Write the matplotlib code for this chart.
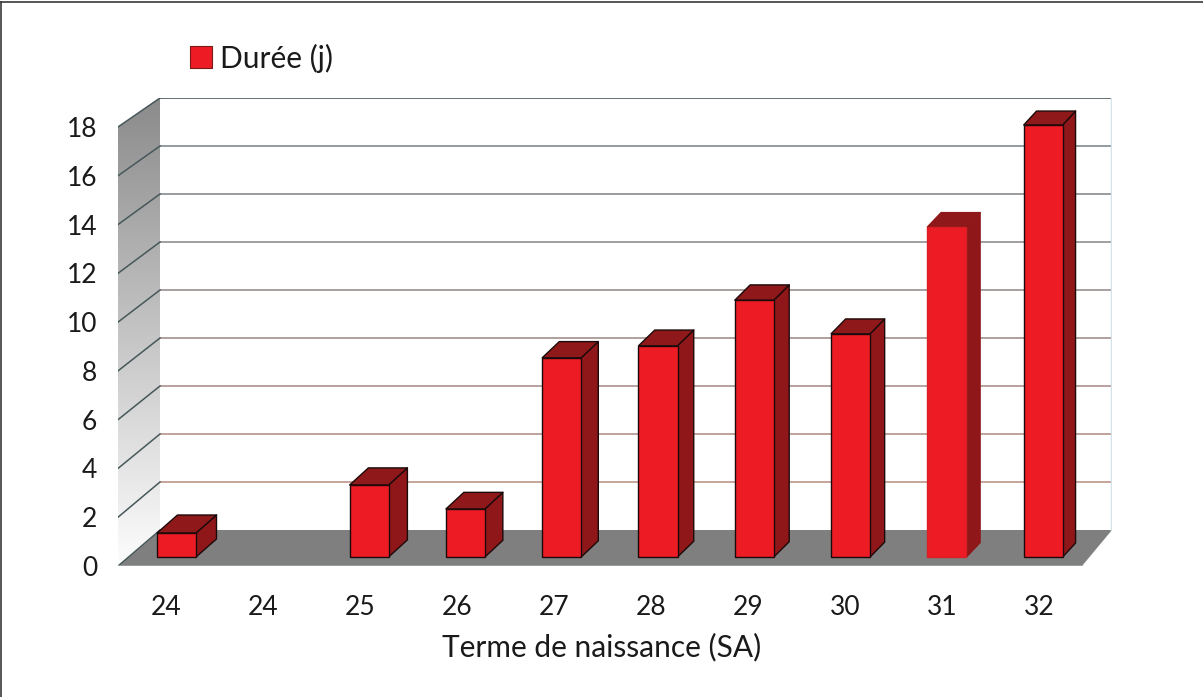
import numpy as np
import matplotlib
matplotlib.use("Agg")
import matplotlib.pyplot as plt
from matplotlib.lines import Line2D
from matplotlib.patches import Patch, Polygon

terms = ['24', '24', '25', '26', '27', '28', '29', '30', '31', '32']
durations = [1.0, 0, 3.0, 2.0, 8.3, 8.8, 10.7, 9.3, 13.75, 18.0]
y_ticks = [0, 2, 4, 6, 8, 10, 12, 14, 16, 18]

RED = '#ed1c24'
TOP = '#8f181b'
SIDE = '#8f1719'

W, H = 1203, 697
plt.rcParams['font.family'] = ['Lato', 'DejaVu Sans']

fig = plt.figure(figsize=(W / 100, H / 100), dpi=100)
# plot area in pixels: left wall front edge -> right of back wall
left, right, top, bottom = 118, 1112, 98, 566
ax = fig.add_axes([left / W, 1 - bottom / H, (right - left) / W, (bottom - top) / H])

# 1 x unit = one category, 1 y unit = one value on the front edge of the wall
x_unit = 96.3
y_unit = 24.39
x0 = 176.5  # centre of first bar
ax.set_xlim((left - x0) / x_unit, (right - x0) / x_unit)
ax.set_ylim(0, (bottom - top) / y_unit)


def px_x(v):
    return (v - x0) / x_unit


def px_y(v):
    return (bottom - v) / y_unit


# depth planes
back_x, back_zero = 160, 530
back_scale = 24.0 / y_unit


def back_y(v):
    return px_y(back_zero) + v * back_scale


# left wall with gradient, clipped to its shape
wall = Polygon([(px_x(left), 0), (px_x(back_x), back_y(0)),
                (px_x(back_x), back_y(18)), (px_x(left), 18)],
               closed=True, fc='none', ec='none')
ax.add_patch(wall)
grad = np.linspace(0, 1, 256).reshape(-1, 1)
im = ax.imshow(grad, extent=[px_x(left), px_x(back_x), 0, back_y(18)], origin='upper',
               cmap=matplotlib.colors.LinearSegmentedColormap.from_list('wall', ['#8b8b8b', '#c4c4c4', '#fdfdfd']),
               aspect='auto', zorder=1)
im.set_clip_path(wall)
ax.set_xlim((left - x0) / x_unit, (right - x0) / x_unit)
ax.set_ylim(0, (bottom - top) / y_unit)

# floor
floor = Polygon([(px_x(left), 0), (px_x(back_x), back_y(0)),
                 (px_x(right), back_y(0)), (px_x(1082), 0)],
                closed=True, fc='#7f7f7f', ec='none', zorder=2)
ax.add_patch(floor)

# grid on back wall and on left wall
n = len(y_ticks)
for i, v in enumerate(y_ticks):
    t = i / (n - 1)
    c = np.array([0.80, 0.62, 0.57]) * (1 - t) + np.array([0.50, 0.57, 0.60]) * t
    if v == 18:
        c = '#56666a'
    if v > 0:
        ax.plot([px_x(back_x), px_x(right)], [back_y(v), back_y(v)], color=c, lw=1.3, zorder=2, solid_capstyle='butt')
        ax.plot([px_x(left), px_x(back_x)], [v, back_y(v)], color='#46585a', lw=1.1, zorder=2)
    else:
        ax.plot([px_x(left), px_x(back_x)], [v, back_y(v)], color='#46585a', lw=1.0, zorder=3)
ax.plot([px_x(left), px_x(1082)], [0, 0], color='#9aa5a8', lw=1.2, zorder=3)
ax.plot([px_x(right - 1)] * 2, [back_y(0), back_y(18)], color='#d5e2ea', lw=1, zorder=2)

# bars: front from ax.bar, sides and tops from the value and the depth offset
bar_w = 0.405
base = px_y(557)
h_scale = 24.0 / y_unit
x = np.arange(len(terms))
for i, d in zip(x, durations):
    if d == 0:
        continue
    soft = i == 8  # this one has no black outline in the original
    ec = '#1c0a0a'
    lw = 1.0
    if soft:
        ec, lw = '#d81f26', 1.0
    dx = (20.5 - 0.85 * i) / x_unit
    dy = (18 - 0.45 * i) / y_unit
    y1 = base + d * h_scale
    xl, xr = i - bar_w / 2, i + bar_w / 2
    edge = SIDE if soft else ec
    ax.add_patch(Polygon([(xr, base), (xr + dx, base + dy), (xr + dx, y1 + dy), (xr, y1)],
                         closed=True, fc=SIDE, ec=edge, lw=lw, zorder=4, joinstyle='round'))
    ax.add_patch(Polygon([(xl, y1), (xl + dx, y1 + dy), (xr + dx, y1 + dy), (xr, y1)],
                         closed=True, fc=TOP, ec=edge, lw=lw, zorder=4, joinstyle='round'))
    ax.bar(i, d * h_scale, bar_w, bottom=base, color=RED, edgecolor=ec, linewidth=lw, zorder=5,
           joinstyle='round' if soft else 'miter')

for s in ax.spines.values():
    s.set_visible(False)
ax.patch.set_alpha(0)

ax.set_yticks(y_ticks)
ax.tick_params(axis='y', length=0, pad=15, labelsize=19, labelcolor='#1a1a1a')
ax.set_xticks(px_x(166 + 97 * x), terms)
ax.tick_params(axis='x', length=0, pad=21, labelsize=19, labelcolor='#1a1a1a')
ax.set_xlabel('Terme de naissance (SA)', fontsize=21.5, color='#1a1a1a', labelpad=9, x=0.487)

leg = ax.legend(handles=[Patch(fc=RED, ec='#7a1a1a', lw=0.8, label='Durée (j)')],
                loc='center left', bbox_to_anchor=(190 / W, 1 - 58 / H),
                bbox_transform=fig.transFigure, frameon=False, fontsize=21.5,
                handlelength=0.72, handleheight=0.72, handletextpad=0.3, borderpad=0, borderaxespad=0)
for t in leg.get_texts():
    t.set_color('#1a1a1a')

# frame of the page
fig.add_artist(Line2D([0, 1], [1 - 2 / H] * 2, color='#3a3a3a', lw=1.2))
fig.add_artist(Line2D([1 / W] * 2, [0, 1 - 2 / H], color='#3a3a3a', lw=1.2))

fig.savefig('out.png', dpi=100)
plt.close('all')
